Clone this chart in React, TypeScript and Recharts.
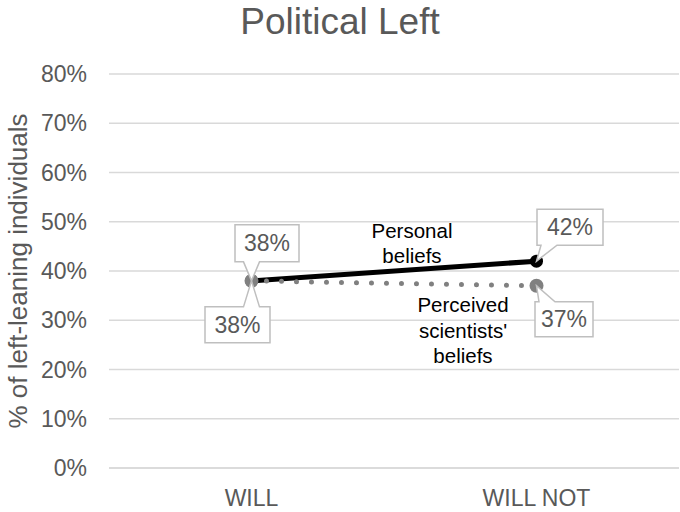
import React from "react";
import {
  LineChart,
  Line,
  XAxis,
  YAxis,
  CartesianGrid,
} from "recharts";

const categories = ["WILL", "WILL NOT"];
const personal = [38, 42];
const perceived = [38, 37];
const yTicks = [0, 10, 20, 30, 40, 50, 60, 70, 80];

const data = categories.map((name, i) => ({
  name,
  personal: personal[i],
  perceived: perceived[i],
}));

const FONT = '"Liberation Sans", Arial, sans-serif';
const GREY_TEXT = "#595959";

// callout box placement per point: offset from the point, box size, which edge the pointer leaves from
type Box = { dx: number; dy: number; w: number; h: number; side: "top" | "bottom" };

const personalBoxes: Box[] = [
  { dx: -16.5, dy: -56, w: 64, h: 37, side: "bottom" },
  { dx: 0.5, dy: -52, w: 66, h: 36, side: "bottom" },
];
const perceivedBoxes: Box[] = [
  { dx: -46.5, dy: 26, w: 65, h: 36, side: "top" },
  { dx: -1.5, dy: 16, w: 58, h: 35, side: "top" },
];

const makeCallout = (boxes: Box[]) => (props: any) => {
  const { x, y, value, index } = props;
  const b = boxes[index];
  if (!b || x == null || y == null) return null;
  const bx = x + b.dx;
  const by = y + b.dy;
  const cx = Math.min(Math.max(x, bx + 12), bx + b.w - 12);
  const b1 = cx - 8;
  const b2 = cx + 8;
  let d: string;
  if (b.side === "bottom") {
    const ey = by + b.h;
    d = `M${bx},${by} L${bx + b.w},${by} L${bx + b.w},${ey} L${b2},${ey} L${x},${y} L${b1},${ey} L${bx},${ey} Z`;
  } else {
    d = `M${bx},${by} L${b1},${by} L${x},${y} L${b2},${by} L${bx + b.w},${by} L${bx + b.w},${by + b.h} L${bx},${by + b.h} Z`;
  }
  return (
    <g key={`cl-${index}`}>
      <path d={d} fill="#ffffff" stroke="#bfbfbf" strokeWidth={1.5} />
      <text
        x={bx + b.w / 2}
        y={by + b.h / 2 + 8}
        textAnchor="middle"
        fontSize={23}
        fill={GREY_TEXT}
        fontFamily={FONT}
      >
        {`${value}%`}
      </text>
    </g>
  );
};

export default function App() {
  return (
    <div
      style={{
        position: "absolute",
        left: 0,
        top: 0,
        width: 680,
        height: 512,
        background: "#fff",
        fontFamily: FONT,
      }}
    >
      <LineChart
        width={680}
        height={512}
        data={data}
        margin={{ top: 74, right: 1, bottom: 0, left: 0 }}
      >
        <CartesianGrid vertical={false} stroke="#d9d9d9" strokeWidth={1.3} />
        <XAxis
          dataKey="name"
          height={44}
          padding={{ left: 142.5, right: 142.5 }}
          axisLine={{ stroke: "#d9d9d9", strokeWidth: 1.3 }}
          tickLine={false}
          tickSize={0}
          tickMargin={22}
          tick={{ fontSize: 23, fill: GREY_TEXT, fontFamily: FONT }}
        />
        <YAxis
          width={109}
          domain={[0, 80]}
          ticks={yTicks}
          interval={0}
          axisLine={false}
          tickLine={false}
          tickSize={0}
          tickMargin={22}
          tickFormatter={(v) => `${v}%`}
          tick={{ fontSize: 23, fill: GREY_TEXT, fontFamily: FONT }}
        />
        <Line
          dataKey="personal"
          stroke="#000000"
          strokeWidth={5}
          dot={{ r: 6.5, fill: "#000000", stroke: "none" }}
          label={makeCallout(personalBoxes)}
          isAnimationActive={false}
        />
        <Line
          dataKey="perceived"
          stroke="#808080"
          strokeWidth={5}
          strokeDasharray="0 15"
          strokeLinecap="round"
          dot={{ r: 7, fill: "#808080", stroke: "none", strokeDasharray: "none" }}
          label={makeCallout(perceivedBoxes)}
          isAnimationActive={false}
        />
      </LineChart>

      <div
        style={{
          position: "absolute",
          left: 0,
          width: 680,
          top: 0,
          textAlign: "center",
          fontSize: 37,
          lineHeight: "44px",
          color: GREY_TEXT,
        }}
      >
        Political Left
      </div>

      <div
        style={{
          position: "absolute",
          left: 18,
          top: 271,
          transform: "translate(-50%, -50%) rotate(-90deg)",
          whiteSpace: "nowrap",
          fontSize: 26,
          color: GREY_TEXT,
        }}
      >
        % of left-leaning individuals
      </div>

      <div
        style={{
          position: "absolute",
          left: 362,
          width: 100,
          top: 218,
          textAlign: "center",
          fontSize: 20.5,
          lineHeight: "25px",
          color: "#000",
        }}
      >
        Personal
        <br />
        beliefs
      </div>

      <div
        style={{
          position: "absolute",
          left: 403,
          width: 120,
          top: 292,
          textAlign: "center",
          fontSize: 20.5,
          lineHeight: "25.5px",
          color: "#000",
        }}
      >
        Perceived
        <br />
        scientists'
        <br />
        beliefs
      </div>
    </div>
  );
}
